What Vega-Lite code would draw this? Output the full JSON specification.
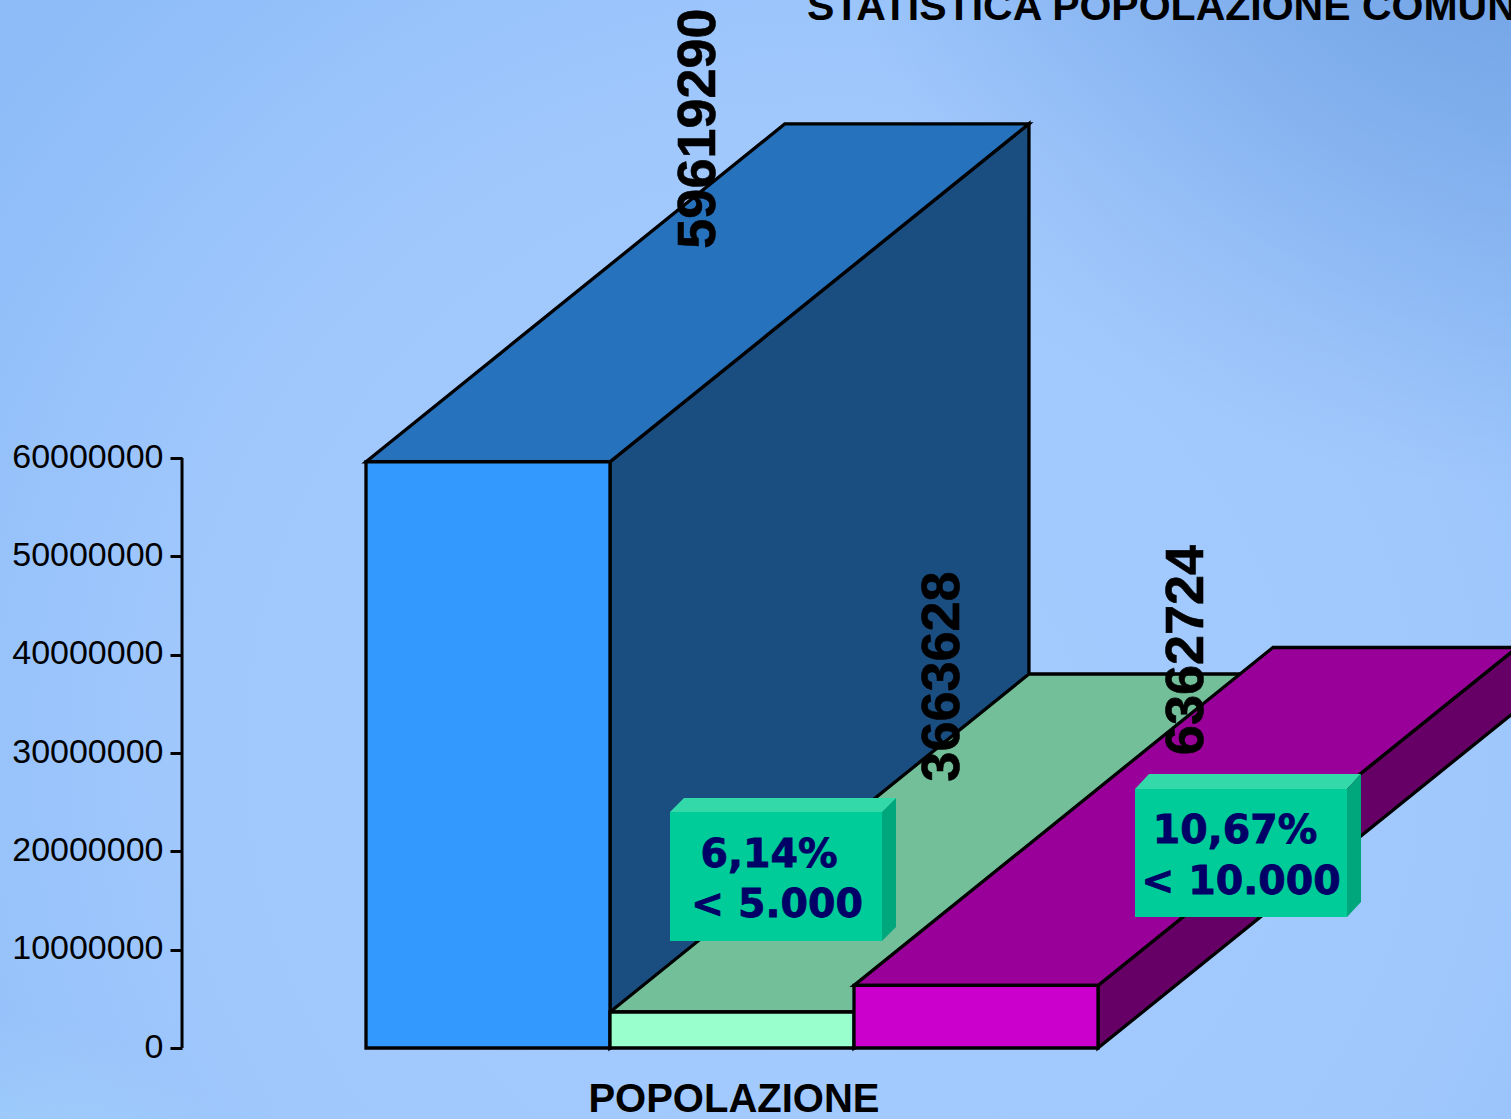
{
"$schema":"https://vega.github.io/schema/vega-lite/v6.json",
"width":1511,"height":1119,"padding":0,"autosize":{"type":"none"},
"config":{"view":{"stroke":null}},
"resolve":{"scale":{"color":"independent"}},
"datasets":{
"bg":[{"x":-1.5,"x2":4.6926,"y":-7220000,"y2":106580000}],
"axisline":[{"x":-0.754,"y":0,"y2":60000000}],
"sides":[
{"bar":"a","x":1,"y":0,"y2":59619290},{"bar":"a","x":2.717,"y":34370000,"y2":93989290},
{"bar":"b","x":2,"y":0,"y2":3663628},{"bar":"b","x":3.717,"y":34370000,"y2":38033628},
{"bar":"c","x":3,"y":0,"y2":6362724},{"bar":"c","x":4.717,"y":34370000,"y2":40732724}],
"tops":[
{"bar":"a","y":59619290,"x":0,"x2":1},{"bar":"a","y":93989290,"x":1.717,"x2":2.717},
{"bar":"b","y":3663628,"x":1,"x2":2},{"bar":"b","y":38033628,"x":2.717,"x2":3.717},
{"bar":"c","y":6362724,"x":2,"x2":3},{"bar":"c","y":40732724,"x":3.717,"x2":4.717}],
"fronts":[
{"bar":"a","x":0,"x2":1,"y":0,"y2":59619290},
{"bar":"b","x":1,"x2":2,"y":0,"y2":3663628},
{"bar":"c","x":2,"x2":3,"y":0,"y2":6362724}],
"boxtops":[
{"box":"p","y":24000020,"x":1.2459,"x2":2.1148},{"box":"p","y":25423750,"x":1.3033,"x2":2.1721},
{"box":"q","y":26339005,"x":3.1516,"x2":4.0205},{"box":"q","y":27864430,"x":3.2090,"x2":4.0779}],
"boxsides":[
{"box":"p","x":2.1148,"y":10881365,"y2":24000020},{"box":"p","x":2.1721,"y":12305095,"y2":25423750},
{"box":"q","x":4.0205,"y":13322045,"y2":26339005},{"box":"q","x":4.0779,"y":14847470,"y2":27864430}],
"boxfronts":[
{"x":1.2459,"x2":2.1148,"y":10881365,"y2":24000020},
{"x":3.1516,"x2":4.0205,"y":13322045,"y2":26339005}],
"values":[
{"label":"59619290","x":1.4283,"y":93508000},
{"label":"3663628","x":2.4283,"y":37779700},
{"label":"6362724","x":3.4283,"y":40474610}],
"boxtext":[
{"label":"6,14%","x":1.6516,"y":18406795},
{"label":"< 5.000","x":1.6844,"y":13322045},
{"label":"10,67%","x":3.5615,"y":20847475},
{"label":"< 10.000","x":3.5861,"y":15661030}],
"title":[{"label":"STATISTICA POPOLAZIONE COMUNI","x":1.807,"y":104542460}],
"xname":[{"label":"POPOLAZIONE","x":1.508,"y":-6510000}]
},
"layer":[
{"data":{"name":"bg"},"mark":{"type":"rect","color":{"gradient":"radial","x1":0.55,"y1":0.63,"r1":0,"x2":0.55,"y2":0.63,"r2":0.85,"stops":[{"offset":0,"color":"#a6ccff"},{"offset":0.5,"color":"#a0c8fd"},{"offset":0.8,"color":"#8fbdf8"},{"offset":1,"color":"#88b8f5"}]}},
 "encoding":{"x":{"field":"x","type":"quantitative","scale":{"domain":[-1.5,4.6926],"nice":false,"zero":false},"axis":null},"x2":{"field":"x2"},
 "y":{"field":"y","type":"quantitative","scale":{"domain":[-7220000,106580000],"nice":false,"zero":false},"axis":{"values":[0,10000000,20000000,30000000,40000000,50000000,60000000],"format":"d","title":null,"grid":false,"domain":false,"zindex":1,"offset":-182,"tickSize":12,"tickWidth":3,"tickColor":"#000000","labelColor":"#000000","labelFont":"Liberation Sans","labelFontSize":34,"labelPadding":7,"labelOffset":-1}},"y2":{"field":"y2"}}},
{"data":{"name":"bg"},"mark":{"type":"rect","color":{"gradient":"radial","x1":1,"y1":0,"r1":0,"x2":1,"y2":0,"r2":0.45,"stops":[{"offset":0,"color":"rgba(95,146,216,0.75)"},{"offset":1,"color":"rgba(95,146,216,0)"}]}},"encoding":{"x":{"field":"x","type":"quantitative"},"x2":{"field":"x2"},"y":{"field":"y","type":"quantitative"},"y2":{"field":"y2"}}},
{"data":{"name":"bg"},"mark":{"type":"rect","color":{"gradient":"radial","x1":0,"y1":1,"r1":0,"x2":0,"y2":1,"r2":0.2,"stops":[{"offset":0,"color":"rgba(176,224,255,0.8)"},{"offset":1,"color":"rgba(176,224,255,0)"}]}},"encoding":{"x":{"field":"x","type":"quantitative"},"x2":{"field":"x2"},"y":{"field":"y","type":"quantitative"},"y2":{"field":"y2"}}},
{"data":{"name":"axisline"},"mark":{"type":"rule","stroke":"#000000","strokeWidth":3},"encoding":{"x":{"field":"x","type":"quantitative"},"y":{"field":"y","type":"quantitative"},"y2":{"field":"y2"}}},
{"data":{"name":"sides"},"mark":{"type":"area","stroke":"#000000","strokeWidth":3.3,"opacity":1},"encoding":{"x":{"field":"x","type":"quantitative"},"y":{"field":"y","type":"quantitative"},"y2":{"field":"y2"},"color":{"field":"bar","type":"nominal","legend":null,"scale":{"domain":["a","b","c"],"range":["#1a4d80","#4d8066","#660066"]}}}},
{"data":{"name":"tops"},"mark":{"type":"area","orient":"horizontal","stroke":"#000000","strokeWidth":3.3,"opacity":1},"encoding":{"y":{"field":"y","type":"quantitative"},"x":{"field":"x","type":"quantitative"},"x2":{"field":"x2"},"color":{"field":"bar","type":"nominal","legend":null,"scale":{"domain":["a","b","c"],"range":["#2672bd","#73bf99","#990099"]}}}},
{"data":{"name":"fronts"},"mark":{"type":"rect","stroke":"#000000","strokeWidth":3.3,"opacity":1},"encoding":{"x":{"field":"x","type":"quantitative"},"x2":{"field":"x2"},"y":{"field":"y","type":"quantitative"},"y2":{"field":"y2"},"color":{"field":"bar","type":"nominal","legend":null,"scale":{"domain":["a","b","c"],"range":["#3399ff","#99ffcc","#cc00cc"]}}}},
{"data":{"name":"boxtops"},"mark":{"type":"area","orient":"horizontal","color":"#33d9a8","opacity":1},"encoding":{"y":{"field":"y","type":"quantitative"},"x":{"field":"x","type":"quantitative"},"x2":{"field":"x2"},"detail":{"field":"box"}}},
{"data":{"name":"boxsides"},"mark":{"type":"area","color":"#00a67c","opacity":1},"encoding":{"x":{"field":"x","type":"quantitative"},"y":{"field":"y","type":"quantitative"},"y2":{"field":"y2"},"detail":{"field":"box"}}},
{"data":{"name":"boxfronts"},"mark":{"type":"rect","color":"#00cc99","opacity":1},"encoding":{"x":{"field":"x","type":"quantitative"},"x2":{"field":"x2"},"y":{"field":"y","type":"quantitative"},"y2":{"field":"y2"}}},
{"data":{"name":"values"},"mark":{"type":"text","angle":270,"align":"center","baseline":"alphabetic","font":"Liberation Sans","fontWeight":"bold","fontSize":54,"stroke":"#000000","strokeWidth":0.6,"color":"#000000"},"encoding":{"x":{"field":"x","type":"quantitative"},"y":{"field":"y","type":"quantitative"},"text":{"field":"label"}}},
{"data":{"name":"boxtext"},"mark":{"type":"text","align":"center","baseline":"alphabetic","font":"DejaVu Sans","fontWeight":"bold","fontSize":39.5,"stroke":"#000066","strokeWidth":0.8,"color":"#000066"},"encoding":{"x":{"field":"x","type":"quantitative"},"y":{"field":"y","type":"quantitative"},"text":{"field":"label"}}},
{"data":{"name":"title"},"mark":{"type":"text","align":"left","baseline":"alphabetic","font":"Liberation Sans","fontWeight":"bold","fontSize":41,"color":"#000000"},"encoding":{"x":{"field":"x","type":"quantitative"},"y":{"field":"y","type":"quantitative"},"text":{"field":"label"}}},
{"data":{"name":"xname"},"mark":{"type":"text","align":"center","baseline":"alphabetic","font":"Liberation Sans","fontWeight":"bold","fontSize":40,"color":"#000000"},"encoding":{"x":{"field":"x","type":"quantitative"},"y":{"field":"y","type":"quantitative"},"text":{"field":"label"}}}
]
}
